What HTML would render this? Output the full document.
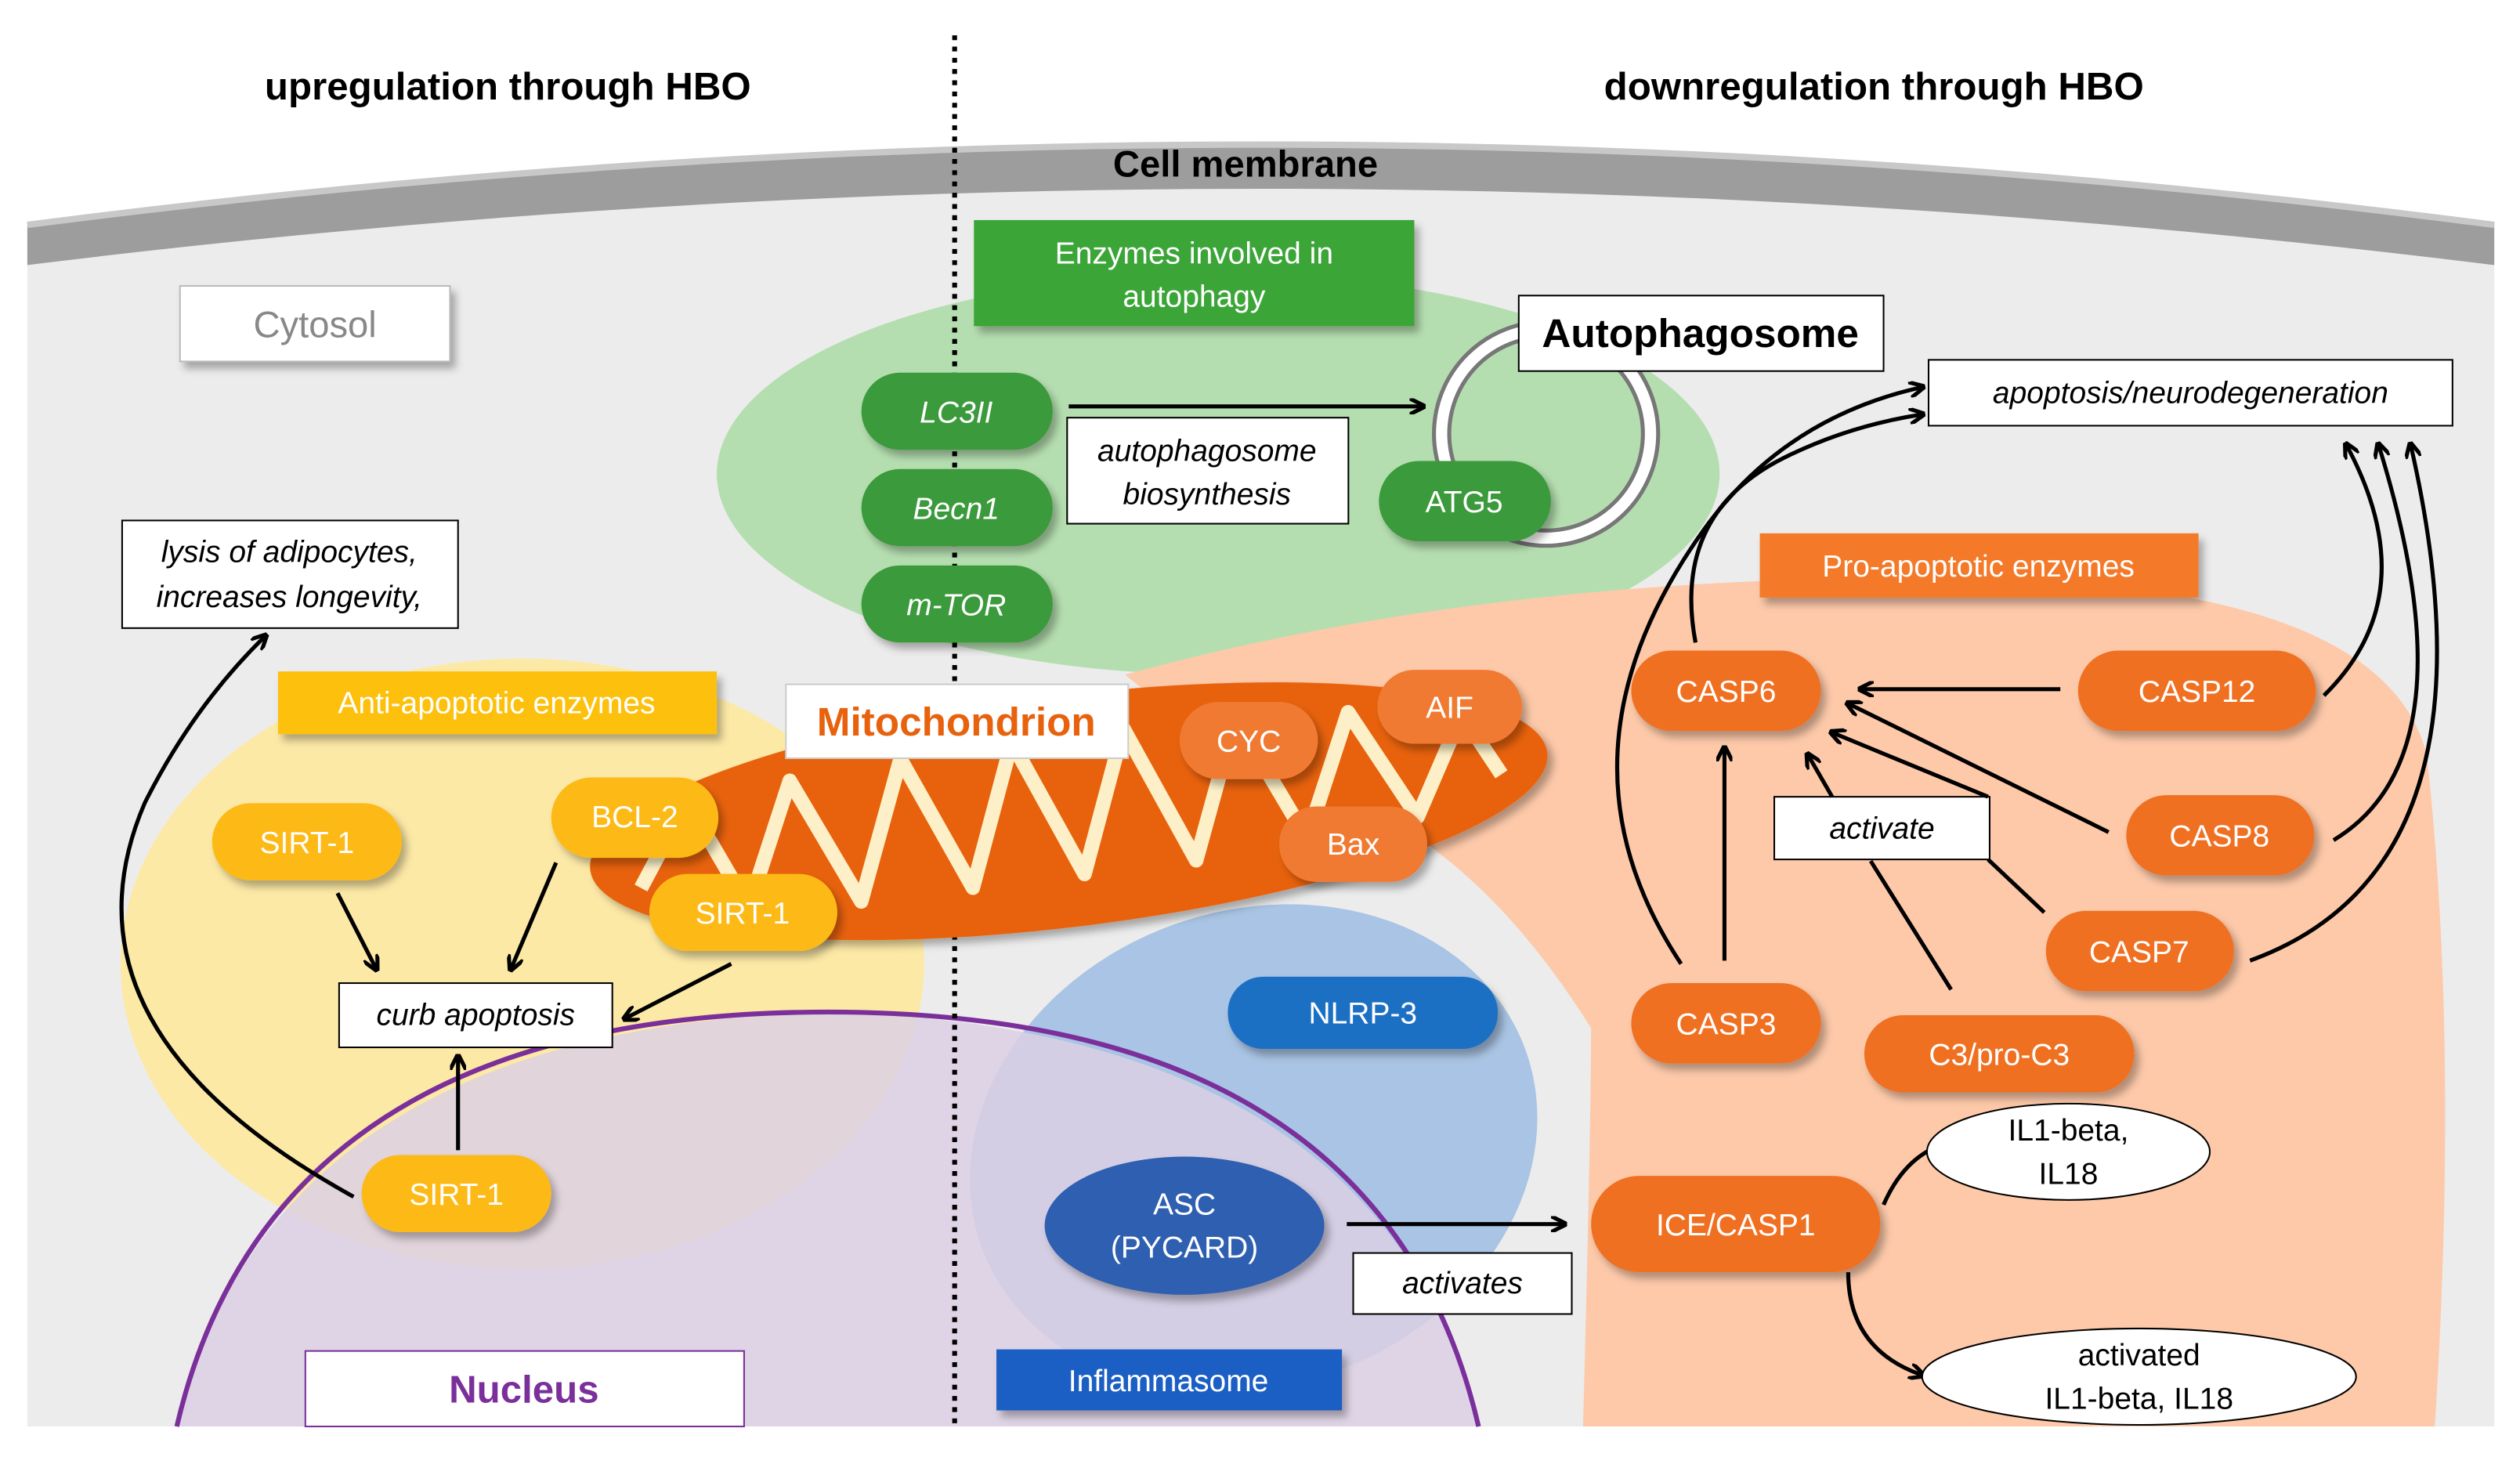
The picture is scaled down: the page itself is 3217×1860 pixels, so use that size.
<!DOCTYPE html>
<html><head><meta charset="utf-8"><style>
html,body{margin:0;padding:0;background:#fff}
svg{display:block}
text{font-family:"Liberation Sans",sans-serif}
.it{font-style:italic}
</style></head><body>
<svg width="3217" height="1860" viewBox="0 0 1568 907" preserveAspectRatio="none" xmlns="http://www.w3.org/2000/svg">
<defs>
<marker id="ah" markerWidth="10" markerHeight="10" refX="8" refY="5" orient="auto" markerUnits="userSpaceOnUse"><path d="M0,0 L10,5 L0,10" fill="none" stroke="#000" stroke-width="2.5"/></marker>
<filter id="sh" x="-20%" y="-20%" width="150%" height="160%"><feDropShadow dx="3" dy="4" stdDeviation="2.5" flood-color="#000" flood-opacity="0.3"/></filter>
</defs>
<rect width="1568" height="907" fill="#fff"/>
<!-- cell interior -->
<path d="M17,150 Q785,55 1552,150 L1552,888 L17,888 Z" fill="#ececec"/>
<!-- membrane -->
<path d="M17,140 Q785,40 1552,140 L1552,165 Q785,70 17,165 Z" fill="#9d9d9d"/>
<path d="M17,140 Q785,40 1552,140" fill="none" stroke="#c8c8c8" stroke-width="4"/>
<text x="775" y="110" font-size="23" font-weight="bold" text-anchor="middle">Cell membrane</text>
<text x="316" y="62" font-size="24" font-weight="bold" text-anchor="middle">upregulation through HBO</text>
<text x="1166" y="62" font-size="24" font-weight="bold" text-anchor="middle">downregulation through HBO</text>

<!-- regions -->
<ellipse cx="758" cy="295" rx="312" ry="125" fill="#b5deb0"/>
<path d="M700,420 Q900,365 1150,360 Q1480,350 1510,470 Q1530,650 1515,888 L985,888 Q990,700 990,640 Q940,560 880,520 Q760,470 700,420 Z" fill="#fdc9a9"/>
<ellipse cx="325" cy="600" rx="250" ry="190" fill="#fde9a6"/>
<ellipse cx="780" cy="715" rx="180" ry="148" fill="#a9c4e4" transform="rotate(-20 780 715)"/>
<path d="M110,888 Q170,640 515,630 Q860,640 920,888 Z" fill="#dcd0e4" opacity="0.85"/>
<path d="M110,888 Q170,630 515,630 Q860,630 920,888" fill="none" stroke="#7b2f9a" stroke-width="3"/>

<!-- dotted line -->
<line x1="594" y1="22" x2="594" y2="887" stroke="#000" stroke-width="3" stroke-dasharray="3,4"/>

<!-- cytosol -->
<rect x="112" y="178" width="168" height="47" fill="#fff" stroke="#bbb" filter="url(#sh)"/>
<text x="196" y="210" font-size="23" fill="#888" text-anchor="middle">Cytosol</text>

<!-- autophagy -->
<rect x="606" y="137" width="274" height="66" fill="#3aa537" filter="url(#sh)"/>
<text x="743" y="164" font-size="19" fill="#fff" text-anchor="middle">Enzymes involved in</text>
<text x="743" y="191" font-size="19" fill="#fff" text-anchor="middle">autophagy</text>
<g filter="url(#sh)" fill="#3a9a3a">
<rect x="536" y="232" width="119" height="48" rx="24"/>
<rect x="536" y="292" width="119" height="48" rx="24"/>
<rect x="536" y="352" width="119" height="48" rx="24"/>
</g>
<text x="595" y="263" font-size="19" fill="#fff" text-anchor="middle" class="it">LC3II</text>
<text x="595" y="323" font-size="19" fill="#fff" text-anchor="middle" class="it">Becn1</text>
<text x="595" y="383" font-size="19" fill="#fff" text-anchor="middle" class="it">m-TOR</text>
<line x1="665" y1="253" x2="885" y2="253" stroke="#000" stroke-width="2.5" marker-end="url(#ah)"/>
<rect x="664" y="260" width="175" height="66" fill="#fff" stroke="#000"/>
<text x="751" y="287" font-size="19" text-anchor="middle" class="it">autophagosome</text>
<text x="751" y="314" font-size="19" text-anchor="middle" class="it">biosynthesis</text>
<circle cx="962" cy="270" r="65" fill="none" stroke="#777" stroke-width="12"/>
<circle cx="962" cy="270" r="65" fill="none" stroke="#fff" stroke-width="7"/>
<rect x="858" y="287" width="107" height="50" rx="25" fill="#3a9a3a" filter="url(#sh)"/>
<text x="911" y="319" font-size="19" fill="#fff" text-anchor="middle">ATG5</text>
<rect x="945" y="184" width="227" height="47" fill="#fff" stroke="#000"/>
<text x="1058" y="216" font-size="25" font-weight="bold" text-anchor="middle">Autophagosome</text>
<rect x="1200" y="224" width="326" height="41" fill="#fff" stroke="#000"/>
<text x="1363" y="251" font-size="19" text-anchor="middle" class="it">apoptosis/neurodegeneration</text>

<!-- lysis -->
<rect x="76" y="324" width="209" height="67" fill="#fff" stroke="#000"/>
<text x="180" y="350" font-size="19" text-anchor="middle" class="it">lysis of adipocytes,</text>
<text x="180" y="378" font-size="19" text-anchor="middle" class="it">increases longevity,</text>

<!-- mitochondrion -->
<g transform="rotate(-7 665 505)">
<ellipse cx="665" cy="505" rx="300" ry="72" fill="#e8620e" filter="url(#sh)"/>
<path d="M395,520 L430,470 L460,540 L495,465 L530,545 L565,460 L600,545 L635,458 L670,545 L705,458 L740,545 L775,460 L810,540 L845,465 L880,535 L915,475 L935,515" fill="none" stroke="#fdf0c8" stroke-width="9" stroke-linejoin="round"/>
</g>
<rect x="489" y="426" width="213" height="46" fill="#fff" stroke="#ccc"/>
<text x="595" y="458" font-size="25" font-weight="bold" fill="#e8620e" text-anchor="middle">Mitochondrion</text>
<g filter="url(#sh)" fill="#f07a30">
<rect x="734" y="437" width="86" height="48" rx="24"/>
<rect x="857" y="417" width="90" height="46" rx="23"/>
<rect x="796" y="502" width="92" height="47" rx="23"/>
</g>
<text x="777" y="468" font-size="19" fill="#fff" text-anchor="middle">CYC</text>
<text x="902" y="447" font-size="19" fill="#fff" text-anchor="middle">AIF</text>
<text x="842" y="532" font-size="19" fill="#fff" text-anchor="middle">Bax</text>

<!-- anti-apoptotic -->
<rect x="173" y="418" width="273" height="39" fill="#fcc00a" filter="url(#sh)"/>
<text x="309" y="444" font-size="19" fill="#fff" text-anchor="middle">Anti-apoptotic enzymes</text>
<g filter="url(#sh)" fill="#fdb913">
<rect x="132" y="500" width="118" height="48" rx="24"/>
<rect x="343" y="484" width="104" height="50" rx="25"/>
<rect x="404" y="544" width="117" height="48" rx="24"/>
<rect x="225" y="719" width="118" height="48" rx="24"/>
</g>
<text x="191" y="531" font-size="19" fill="#fff" text-anchor="middle">SIRT-1</text>
<text x="395" y="515" font-size="19" fill="#fff" text-anchor="middle">BCL-2</text>
<text x="462" y="575" font-size="19" fill="#fff" text-anchor="middle">SIRT-1</text>
<text x="284" y="750" font-size="19" fill="#fff" text-anchor="middle">SIRT-1</text>
<rect x="211" y="612" width="170" height="40" fill="#fff" stroke="#000"/>
<text x="296" y="638" font-size="19" text-anchor="middle" class="it">curb apoptosis</text>
<g stroke="#000" stroke-width="2.5" fill="none" marker-end="url(#ah)">
<line x1="210" y1="556" x2="234" y2="603"/>
<line x1="346" y1="537" x2="318" y2="603"/>
<line x1="455" y1="600" x2="389" y2="634"/>
<line x1="285" y1="716" x2="285" y2="658"/>
<path d="M220,745 Q30,640 90,500 Q120,440 165,396"/>
</g>

<!-- inflammasome -->
<rect x="764" y="608" width="168" height="45" rx="22" fill="#1f6fc4" filter="url(#sh)"/>
<text x="848" y="637" font-size="19" fill="#fff" text-anchor="middle">NLRP-3</text>
<ellipse cx="737" cy="763" rx="87" ry="43" fill="#2f5fb0" filter="url(#sh)"/>
<text x="737" y="756" font-size="19" fill="#fff" text-anchor="middle">ASC</text>
<text x="737" y="783" font-size="19" fill="#fff" text-anchor="middle">(PYCARD)</text>
<rect x="620" y="840" width="215" height="38" fill="#1f5fc4" filter="url(#sh)"/>
<text x="727" y="866" font-size="19" fill="#fff" text-anchor="middle">Inflammasome</text>
<line x1="838" y1="762" x2="973" y2="762" stroke="#000" stroke-width="2.5" marker-end="url(#ah)"/>
<rect x="842" y="780" width="136" height="38" fill="#fff" stroke="#000"/>
<text x="910" y="805" font-size="19" text-anchor="middle" class="it">activates</text>

<!-- nucleus -->
<rect x="190" y="841" width="273" height="47" fill="#fff" stroke="#7b2f9a"/>
<text x="326" y="873" font-size="24" font-weight="bold" fill="#7b2f9a" text-anchor="middle">Nucleus</text>

<!-- pro-apoptotic -->
<rect x="1095" y="332" width="273" height="40" fill="#f47a2a" filter="url(#sh)"/>
<text x="1231" y="359" font-size="19" fill="#fff" text-anchor="middle">Pro-apoptotic enzymes</text>
<g filter="url(#sh)" fill="#f07020">
<rect x="1015" y="405" width="118" height="50" rx="25"/>
<rect x="1293" y="405" width="148" height="50" rx="25"/>
<rect x="1323" y="495" width="117" height="50" rx="25"/>
<rect x="1273" y="567" width="117" height="50" rx="25"/>
<rect x="1015" y="612" width="118" height="50" rx="25"/>
<rect x="1160" y="632" width="168" height="48" rx="24"/>
<rect x="990" y="732" width="180" height="60" rx="30"/>
</g>
<text x="1074" y="437" font-size="19" fill="#fff" text-anchor="middle">CASP6</text>
<text x="1367" y="437" font-size="19" fill="#fff" text-anchor="middle">CASP12</text>
<text x="1381" y="527" font-size="19" fill="#fff" text-anchor="middle">CASP8</text>
<text x="1331" y="599" font-size="19" fill="#fff" text-anchor="middle">CASP7</text>
<text x="1074" y="644" font-size="19" fill="#fff" text-anchor="middle">CASP3</text>
<text x="1244" y="663" font-size="19" fill="#fff" text-anchor="middle">C3/pro-C3</text>
<text x="1080" y="769" font-size="19" fill="#fff" text-anchor="middle">ICE/CASP1</text>
<g stroke="#000" stroke-width="2.5" fill="none">
<line x1="1237" y1="535" x2="1272" y2="568"/>
<line x1="1164" y1="536" x2="1214" y2="616"/>
</g>
<rect x="1104" y="496" width="134" height="39" fill="#fff" stroke="#000"/>
<text x="1171" y="522" font-size="19" text-anchor="middle" class="it">activate</text>
<g stroke="#000" stroke-width="2.5" fill="none" marker-end="url(#ah)">
<line x1="1282" y1="429" x2="1158" y2="429"/>
<line x1="1312" y1="518" x2="1150" y2="438"/>
<line x1="1237" y1="496" x2="1140" y2="456"/>
<line x1="1140" y1="496" x2="1125" y2="470"/>
<line x1="1073" y1="598" x2="1073" y2="466"/>
<path d="M1046,600 Q960,470 1060,330 Q1110,260 1196,241"/>
<path d="M1055,400 Q1040,320 1110,285 Q1150,265 1196,258"/>
<path d="M1446,433 Q1510,370 1460,277"/>
<path d="M1452,523 Q1540,470 1480,277"/>
<path d="M1400,598 Q1560,540 1500,277"/>
<path d="M1172,750 Q1185,720 1210,712"/>
<path d="M1150,792 Q1150,840 1196,856"/>
</g>
<ellipse cx="1287" cy="717" rx="88" ry="30" fill="#fff" stroke="#000"/>
<text x="1287" y="710" font-size="19" text-anchor="middle">IL1-beta,</text>
<text x="1287" y="737" font-size="19" text-anchor="middle">IL18</text>
<ellipse cx="1331" cy="857" rx="135" ry="30" fill="#fff" stroke="#000"/>
<text x="1331" y="850" font-size="19" text-anchor="middle">activated</text>
<text x="1331" y="877" font-size="19" text-anchor="middle">IL1-beta, IL18</text>
</svg>
</body></html>
